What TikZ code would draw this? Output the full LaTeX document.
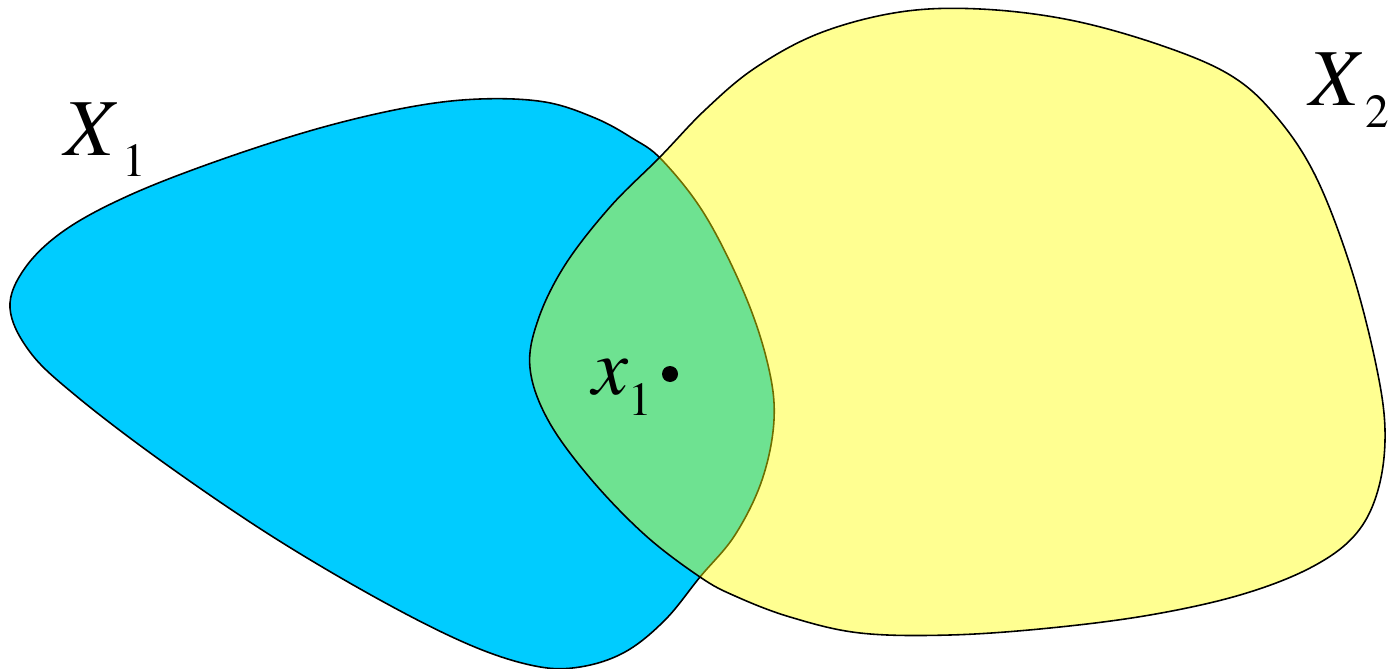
\documentclass[tikz,border=0pt]{standalone}
\usepackage{fontspec}
\setmainfont{texgyretermes}[Extension=.otf, UprightFont=*-regular, ItalicFont=*-italic, BoldFont=*-bold, BoldItalicFont=*-bolditalic]
\definecolor{setblue}{RGB}{0,204,255}
\definecolor{setyellow}{RGB}{255,255,0}
\newcommand{\bigfont}{\fontsize{46}{46}\selectfont}
\newcommand{\subfont}{\fontsize{27}{27}\selectfont}
\tikzset{
  blob/.style={draw=black, line width=0.9pt, line join=round},
  lbl/.style={anchor=base west, inner sep=0pt, outer sep=0pt},
}
\begin{document}
\begin{tikzpicture}[x=0.02cm, y=-0.02cm]
\useasboundingbox (0,0) rectangle (1393,669);
% X1 region
\draw[blob, fill=setblue] plot[smooth cycle, tension=0.6] coordinates {
  (10,308) (25,268) (65,230) (130,195) (220,160) (320,128) (410,107) (480,99) (545,102) (595,118) (632,138) (662,160)
  (705,215) (745,295) (768,365) (774,420) (762,480) (735,535) (700,577)
  (665,620) (625,652) (580,667) (535,666) (470,645) (380,600) (270,535) (160,460) (75,395) (30,352)};
% X2 region
\draw[blob, fill=setyellow, fill opacity=0.43] plot[smooth cycle, tension=0.6] coordinates {
  (660,157) (705,110) (755,68) (820,33) (900,12) (980,9) (1070,20) (1160,45) (1230,75) (1275,115)
  (1315,175) (1350,265) (1375,360) (1385,430) (1378,490) (1355,535) (1310,568) (1240,595) (1150,615)
  (1050,628) (950,635) (860,633) (790,617) (735,596) (700,577) (645,535) (590,478) (548,420) (530,368)
  (538,320) (565,265) (610,207)};
% point
\fill (670,374) circle (8);
\coordinate (p) at (670,374);
\node[lbl] (x1) at (592,394) {\bigfont\textit{x}\kern0pt\raisebox{-12.5pt}{\subfont 1}};
\node[lbl] (X1) at (64,155) {\bigfont\textit{X}\kern3pt\raisebox{-12.5pt}{\subfont 1}};
\node[lbl] (X2) at (1309,106) {\bigfont\textit{X}\kern2pt\raisebox{-12.5pt}{\subfont 2}};
\end{tikzpicture}
\end{document}
